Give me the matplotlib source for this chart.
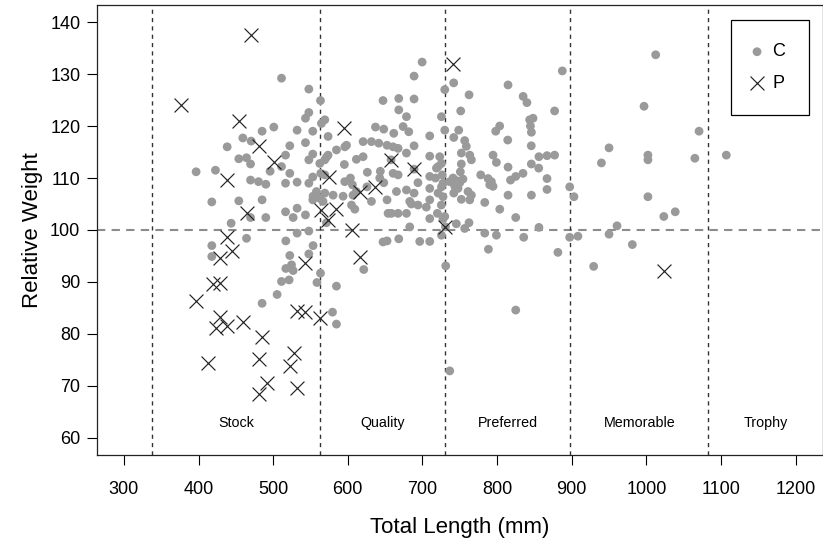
import matplotlib
matplotlib.use("Agg")
import matplotlib.pyplot as plt
import numpy as np

plt.rcParams["font.family"] = ["Liberation Sans", "DejaVu Sans"]

# length-category cut points (mm) and their names
CUTS = [338, 563, 730, 898, 1083]
CATEGORIES = ["Stock", "Quality", "Preferred", "Memorable", "Trophy"]

# group C: total length (mm), relative weight
C_LEN = [
    396.8, 422.7, 417.8, 417.8, 417.8, 438.4, 443.7, 454.0, 454.0, 459.4,
    464.3, 464.3, 469.7, 469.7, 469.7, 470.5, 480.4, 485.2, 485.2, 485.2,
    490.2, 490.2, 495.9, 500.9, 505.3, 511.2, 511.2, 511.2, 516.6, 516.6,
    516.6, 517.0, 517.0, 521.4, 522.3, 522.3, 522.3, 524.6, 526.8, 526.8,
    532.1, 532.1, 532.1, 532.1, 543.3, 543.3, 543.3, 547.8, 547.8, 547.8,
    547.8, 547.8, 547.8, 553.1, 553.1, 553.1, 553.1, 553.5, 553.5, 558.0,
    562.5, 558.7, 563.4, 563.4, 564.7, 563.8, 562.5,
    566.8, 569.2, 569.2, 569.2, 569.2, 571.4, 571.4, 573.6, 573.6, 579.5,
    580.3, 584.8, 584.8, 584.8, 593.7, 595.4, 595.9, 596.0, 598.3, 603.5,
    605.0, 606.2, 607.0, 609.4, 611.5, 611.5, 620.5, 620.5, 621.4, 625.7,
    626.2, 631.7, 631.7, 637.1, 641.5, 642.8, 643.6, 647.2, 647.2, 648.2,
    648.2, 652.6, 652.6, 652.6, 654.0, 658.0, 658.5, 660.7, 660.7, 661.6,
    665.2, 667.4, 667.4, 667.4, 668.3, 668.3, 668.3, 674.1, 678.6, 678.6,
    678.6, 678.6, 681.7, 683.0, 683.0, 685.2, 688.8, 688.8, 688.8, 688.8,
    688.8, 694.0, 694.0, 696.4, 699.6, 705.2, 709.8, 709.8, 709.8, 709.8,
    709.8, 709.8, 709.8, 717.5, 718.8, 720.0, 721.0, 721.0, 723.2, 725.3,
    725.5, 725.5, 725.5, 727.6, 729.9, 729.9, 726.6, 727.6, 725.5, 727.6,
    729.9, 730.8, 731.2, 736.6,
    736.6, 741.0, 741.9, 742.0, 742.0, 743.3, 745.4, 745.4, 747.7, 748.6,
    750.0, 750.8, 751.3, 752.1, 752.1, 752.1, 754.3, 756.6, 756.6, 758.8,
    761.1, 762.4, 762.5, 763.4, 763.4, 765.6, 765.6, 778.1, 783.5, 783.5,
    787.9, 788.4, 790.2, 792.4, 794.6, 794.6, 798.2, 799.1, 799.1, 803.5,
    803.6, 814.3, 814.7, 814.7, 814.7, 818.0, 825.0, 825.0, 825.0, 834.7,
    834.9, 835.7, 840.0, 843.7, 848.2, 844.7, 846.0, 845.8, 845.9, 846.0,
    855.8, 856.1, 856.1, 866.9, 866.9, 866.9, 877.1, 877.1, 881.5, 887.4,
    897.3, 897.3,
    903.0, 908.3, 929.4, 939.8, 950.0, 950.0, 960.7, 981.2, 996.9, 1002.1,
    1002.1, 1002.1, 1012.5, 1023.4, 1038.7, 1065.0, 1070.6, 1107.1,
]
C_WR = [
    111.2, 111.5, 105.4, 97.0, 94.9, 116.0, 101.3, 113.7, 105.6, 117.7,
    113.9, 98.4, 112.7, 109.6, 102.4, 117.1, 109.3, 119.0, 105.8, 85.9,
    108.8, 102.4, 111.3, 119.8, 87.6, 129.2, 112.2, 90.1, 114.4, 109.0,
    103.5, 97.9, 92.6, 90.4, 116.2, 110.9, 95.1, 93.3, 102.4, 92.2,
    119.2, 109.2, 104.2, 99.4, 121.5, 116.8, 102.9, 127.1, 122.6, 113.5,
    109.0, 99.8, 95.4, 119.0, 114.6, 110.2, 105.8, 97.0, 106.5, 107.4,
    106.1, 89.9, 124.9, 91.7, 120.5, 110.9, 112.8,
    105.5, 121.2, 107.1, 110.6, 113.5, 101.4, 114.0, 118.0, 114.4, 84.2,
    106.7, 115.4, 89.2, 81.9, 106.5, 112.6, 109.3, 116.0, 116.3, 110.0,
    104.8, 108.7, 106.7, 104.0, 113.6, 107.4, 117.0, 114.1, 92.4, 108.3,
    111.1, 117.0, 105.5, 119.8, 116.7, 110.0, 111.3, 124.9, 97.7, 119.4,
    109.1, 116.3, 105.8, 97.9, 103.2, 113.5, 103.2, 116.0, 110.9, 118.6,
    107.4, 115.7, 110.6, 103.2, 125.3, 123.1, 98.3, 119.9, 121.8, 114.8,
    107.7, 103.2, 118.9, 105.5, 100.6, 105.0, 129.6, 125.2, 116.2, 107.1,
    111.7, 109.1, 104.8, 97.8, 132.3, 104.4, 118.1, 114.2, 110.3, 108.0,
    105.8, 102.2, 97.8, 110.0, 111.9, 103.2, 112.2, 107.1, 114.1, 104.8,
    121.8, 112.8, 99.0, 102.2, 127.0, 119.2, 110.6, 109.0, 108.3, 106.4,
    102.6, 100.6, 93.1, 72.9,
    109.3, 110.0, 128.3, 117.8, 107.1, 108.4, 109.5, 101.2, 108.0, 119.2,
    109.1, 111.2, 122.9, 114.8, 112.7, 105.9, 109.8, 117.2, 100.3, 116.1,
    107.4, 101.4, 126.0, 114.4, 105.8, 113.5, 106.7, 110.6, 105.3, 99.4,
    109.9, 96.3, 108.7, 109.3, 114.4, 108.4, 119.0, 113.0, 99.0, 120.0,
    104.0, 117.3, 127.9, 112.1, 106.7, 109.6, 110.3, 102.4, 84.6, 110.9,
    125.7, 98.6, 124.5, 121.2, 121.5, 120.0, 118.8, 116.2, 112.7, 106.7,
    111.9, 114.1, 100.5, 114.3, 109.9, 107.8, 122.9, 114.4, 95.7, 130.6,
    108.3, 98.6,
    106.4, 98.8, 93.0, 112.9, 115.8, 99.2, 100.8, 97.2, 123.8, 114.4,
    113.5, 106.4, 133.7, 102.6, 103.5, 113.8, 119.0, 114.4,
]

# group P
P_LEN = [
    470.1, 375.9, 454.0, 480.4, 500.9, 438.4, 464.3, 563.8, 438.4, 444.2,
    428.6, 543.3, 418.8, 428.6, 397.3, 532.1, 543.3, 563.4, 428.6, 423.2,
    437.5, 459.8, 485.2, 527.7, 522.3, 480.8, 412.9, 491.1, 480.8, 532.1,
    741.0, 595.4, 658.0, 688.8, 574.9, 616.1, 637.1, 584.8, 573.6, 605.0,
    730.8, 616.1, 1023.4,
]
P_WR = [
    137.5, 124.0, 121.0, 116.2, 113.0, 109.6, 103.2, 103.8, 98.7, 96.0,
    94.6, 93.6, 89.6, 89.8, 86.4, 84.4, 84.2, 83.1, 83.2, 81.2,
    81.5, 82.4, 79.4, 76.3, 73.9, 75.2, 74.5, 70.5, 68.5, 69.6,
    131.9, 119.6, 113.5, 111.7, 110.1, 107.4, 108.3, 104.0, 101.9, 100.0,
    100.6, 94.9, 92.1,
]

X_TICKS = list(range(300, 1201, 100))
Y_TICKS = list(range(60, 141, 10))
X_LIM = (300, 1200)
Y_LIM = (60, 140)


def padded(lim, frac=0.04):
    span = lim[1] - lim[0]
    return lim[0] - frac * span, lim[1] + frac * span


def main():
    fig = plt.figure(figsize=(8.23, 5.44), dpi=100)
    ax = fig.add_axes([97 / 823, 89.4 / 544, 725.5 / 823, 449.2 / 544])

    xlim = padded(X_LIM)
    ylim = padded(Y_LIM)
    ax.set_xlim(*xlim)
    ax.set_ylim(*ylim)

    ax.axhline(100, color="#8c8c8c", linewidth=1.5, linestyle=(0, (4, 3)), zorder=1)
    for cut in CUTS:
        ax.axvline(cut, color="#333333", linewidth=1.0, linestyle=(0, (3, 3)), zorder=1)

    ax.scatter(C_LEN, C_WR, s=40, color="#9a9a9a", edgecolors="none", zorder=2, label="C")
    ax.scatter(P_LEN, P_WR, s=100, marker="x", color="#222222", linewidths=0.85, zorder=3, label="P")

    edges = CUTS + [xlim[1]]
    for name, lo, hi in zip(CATEGORIES, edges[:-1], edges[1:]):
        ax.text((lo + hi) / 2, 62.8, name, ha="center", va="center", fontsize=10.3)

    ax.set_xticks(X_TICKS)
    ax.set_yticks(Y_TICKS)
    ax.tick_params(axis="both", direction="out", length=7, width=0.8, labelsize=13)
    ax.tick_params(axis="x", pad=12)
    ax.tick_params(axis="y", pad=5)
    for sp in ax.spines.values():
        sp.set_linewidth(0.9)
        sp.set_color("#222222")

    ax.set_xlabel("Total Length (mm)", fontsize=16, labelpad=14)
    ax.set_ylabel("Relative Weight", fontsize=16, labelpad=5)

    leg = ax.legend(
        loc="upper right",
        bbox_to_anchor=(0.981, 0.9675),
        fontsize=13,
        frameon=True,
        fancybox=False,
        edgecolor="black",
        framealpha=1,
        borderpad=1.3,
        labelspacing=0.8,
        handlelength=0.3,
        handletextpad=0.7,
        borderaxespad=0,
        scatterpoints=1,
    )
    leg.get_frame().set_linewidth(0.9)

    fig.savefig("out.png", dpi=100)


if __name__ == "__main__":
    main()
